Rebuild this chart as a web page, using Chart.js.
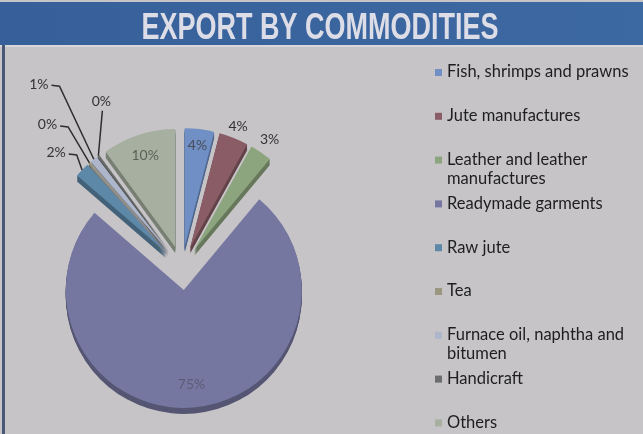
<!DOCTYPE html>
<html>
<head>
<meta charset="utf-8">
<script src="https://cdn.jsdelivr.net/npm/chart.js@4.4.0/dist/chart.umd.min.js"></script>
<style>
  html, body { margin: 0; padding: 0; background: #c6c4c7; }
  canvas { display: block; }
</style>
</head>
<body>
<canvas id="exportChart" width="643" height="434"></canvas>
<script>
// chart data
var chartTitle = "EXPORT BY COMMODITIES";
var commodities = ["Fish, shrimps and prawns", "Jute manufactures", "Leather and leather manufactures",
    "Readymade garments", "Raw jute", "Tea", "Furnace oil, naphtha and bitumen", "Handicraft", "Others"];
var shares = [4, 4, 3, 75, 2, 0.3, 1, 0.3, 10];
var shareLabels = shares.map(function(v) { return Math.round(v) + "%"; });

// styles
var sliceColors = ["#6f8fc5", "#8a5d66", "#8da57f", "#7677a0", "#5d88a8", "#9a9680", "#aeb6cc", "#6b6e6c", "#a7b0a0"];
var explode = 22;      // px each slice is pulled out
var depth = 6;         // fake 3d thickness
// where each percent label goes: r = fraction of radius, or dx/dy from slice edge with a leader line
var labelPlacement = [
    { r: 0.86, color: "#4a4d5a" },
    { r: 1.1 },
    { r: 1.13 },
    { r: 0.8, color: "#5c5d78" },
    { dx: -26, dy: -17, lead: "right" },
    { dx: -42, dy: -38, lead: "right" },
    { dx: -55, dy: -75, lead: "right" },
    { dx: 3, dy: -54, lead: "below" },
    { r: 0.82, color: "#5b6158" }
];

function darken(hex, f) {
    var n = parseInt(hex.slice(1), 16);
    var r = Math.round(((n >> 16) & 255) * f), g = Math.round(((n >> 8) & 255) * f), b = Math.round((n & 255) * f);
    return "rgb(" + r + "," + g + "," + b + ")";
}

function wrapText(ctx, text, maxWidth) {
    var words = text.split(" "), lines = [], line = "";
    words.forEach(function(w) {
        var test = line ? line + " " + w : w;
        if (ctx.measureText(test).width > maxWidth && line) {
            lines.push(line);
            line = w;
        } else {
            line = test;
        }
    });
    lines.push(line);
    return lines;
}

// banner, frame and the side legend
var framePlugin = {
    id: "frame",
    beforeDraw: function(chart) {
        var ctx = chart.ctx;
        ctx.save();
        ctx.fillStyle = "#c6c4c7";
        ctx.fillRect(0, 0, chart.width, chart.height);
        var grad = ctx.createLinearGradient(0, 0, chart.width, 0);
        grad.addColorStop(0, "#37609a");
        grad.addColorStop(1, "#3d69a3");
        ctx.fillStyle = grad;
        ctx.fillRect(0, 2, chart.width, 43);
        ctx.fillStyle = "#d8d7db";
        ctx.fillRect(0, 45, chart.width, 2);
        ctx.fillStyle = "#4a5878";
        ctx.fillRect(2, 45, 3, chart.height - 45);

        ctx.fillStyle = "#dcdde6";
        ctx.font = "bold 36px 'Liberation Sans', Arial, sans-serif";
        ctx.textAlign = "center";
        ctx.textBaseline = "alphabetic";
        ctx.translate(320, 39);
        ctx.scale(0.75, 1);
        ctx.fillText(chartTitle, 0, 0);
        ctx.restore();
    },
    afterDraw: function(chart) {
        var ctx = chart.ctx;
        var colors = chart.data.datasets[0].backgroundColor;
        ctx.save();
        ctx.font = "16.5px Lato, sans-serif";
        ctx.textBaseline = "middle";
        ctx.textAlign = "left";
        chart.data.labels.forEach(function(label, i) {
            var y = 72 + i * 43.8;
            ctx.fillStyle = colors[i];
            ctx.fillRect(435, y - 3, 7, 7);
            ctx.fillStyle = "#1e1e1e";
            wrapText(ctx, label, 195).forEach(function(line, k) {
                ctx.fillText(line, 447, y + k * 19);
            });
        });
        ctx.restore();
    }
};

// draw the slices pulled apart, with a darker side for the 3d look
var explodePlugin = {
    id: "explode",
    beforeDatasetDraw: function(chart, args) {
        var ctx = chart.ctx;
        var arcs = args.meta.data;
        arcs.forEach(function(arc, i) {
            var mid = (arc.startAngle + arc.endAngle) / 2;
            var cx = arc.x + Math.cos(mid) * explode, cy = arc.y + Math.sin(mid) * explode;
            ctx.save();
            ctx.fillStyle = darken(sliceColors[i], 0.72);
            for (var k = depth; k > 0; k--) {
                ctx.beginPath();
                ctx.moveTo(cx, cy + k);
                ctx.arc(cx, cy + k, arc.outerRadius, arc.startAngle, arc.endAngle);
                ctx.closePath();
                ctx.fill();
            }
            ctx.restore();
        });
        arcs.forEach(function(arc) {
            var mid = (arc.startAngle + arc.endAngle) / 2;
            ctx.save();
            ctx.translate(Math.cos(mid) * explode, Math.sin(mid) * explode);
            arc.draw(ctx);
            ctx.restore();
        });
        return false;
    },
    afterDatasetsDraw: function(chart) {
        var ctx = chart.ctx;
        var arcs = chart.getDatasetMeta(0).data;
        ctx.save();
        ctx.font = "14px Lato, sans-serif";
        ctx.textAlign = "center";
        ctx.textBaseline = "middle";
        ctx.strokeStyle = "#2e2e2e";
        ctx.lineWidth = 1.5;
        arcs.forEach(function(arc, i) {
            var p = labelPlacement[i];
            var mid = (arc.startAngle + arc.endAngle) / 2;
            var cx = arc.x + Math.cos(mid) * explode, cy = arc.y + Math.sin(mid) * explode;
            var text = shareLabels[i];
            if (p.r) {
                ctx.fillStyle = p.color || "#333";
                ctx.fillText(text, cx + Math.cos(mid) * arc.outerRadius * p.r, cy + Math.sin(mid) * arc.outerRadius * p.r);
                return;
            }
            var ax = cx + Math.cos(mid) * arc.outerRadius, ay = cy + Math.sin(mid) * arc.outerRadius;
            var tx = ax + p.dx, ty = ay + p.dy;
            ctx.fillStyle = "#333";
            ctx.fillText(text, tx, ty);
            var w = ctx.measureText(text).width;
            ctx.beginPath();
            if (p.lead === "right") {
                ctx.moveTo(tx + w / 2 + 3, ty + 1);
                ctx.lineTo(tx + w / 2 + 11, ty + 2);
            } else {
                ctx.moveTo(tx + 1, ty + 9);
            }
            ctx.lineTo(ax, ay);
            ctx.stroke();
        });
        ctx.restore();
    }
};

var chart = new Chart(document.getElementById("exportChart").getContext("2d"), {
    type: "pie",
    data: {
        labels: commodities,
        datasets: [{
            data: shares,
            backgroundColor: sliceColors,
            borderWidth: 0,
            radius: 118
        }]
    },
    options: {
        responsive: false,
        animation: false,
        layout: { padding: { left: 20, right: 299, top: 102, bottom: 0 } },
        plugins: {
            legend: { display: false },
            tooltip: { enabled: false }
        }
    },
    plugins: [framePlugin, explodePlugin]
});
</script>
</body>
</html>
